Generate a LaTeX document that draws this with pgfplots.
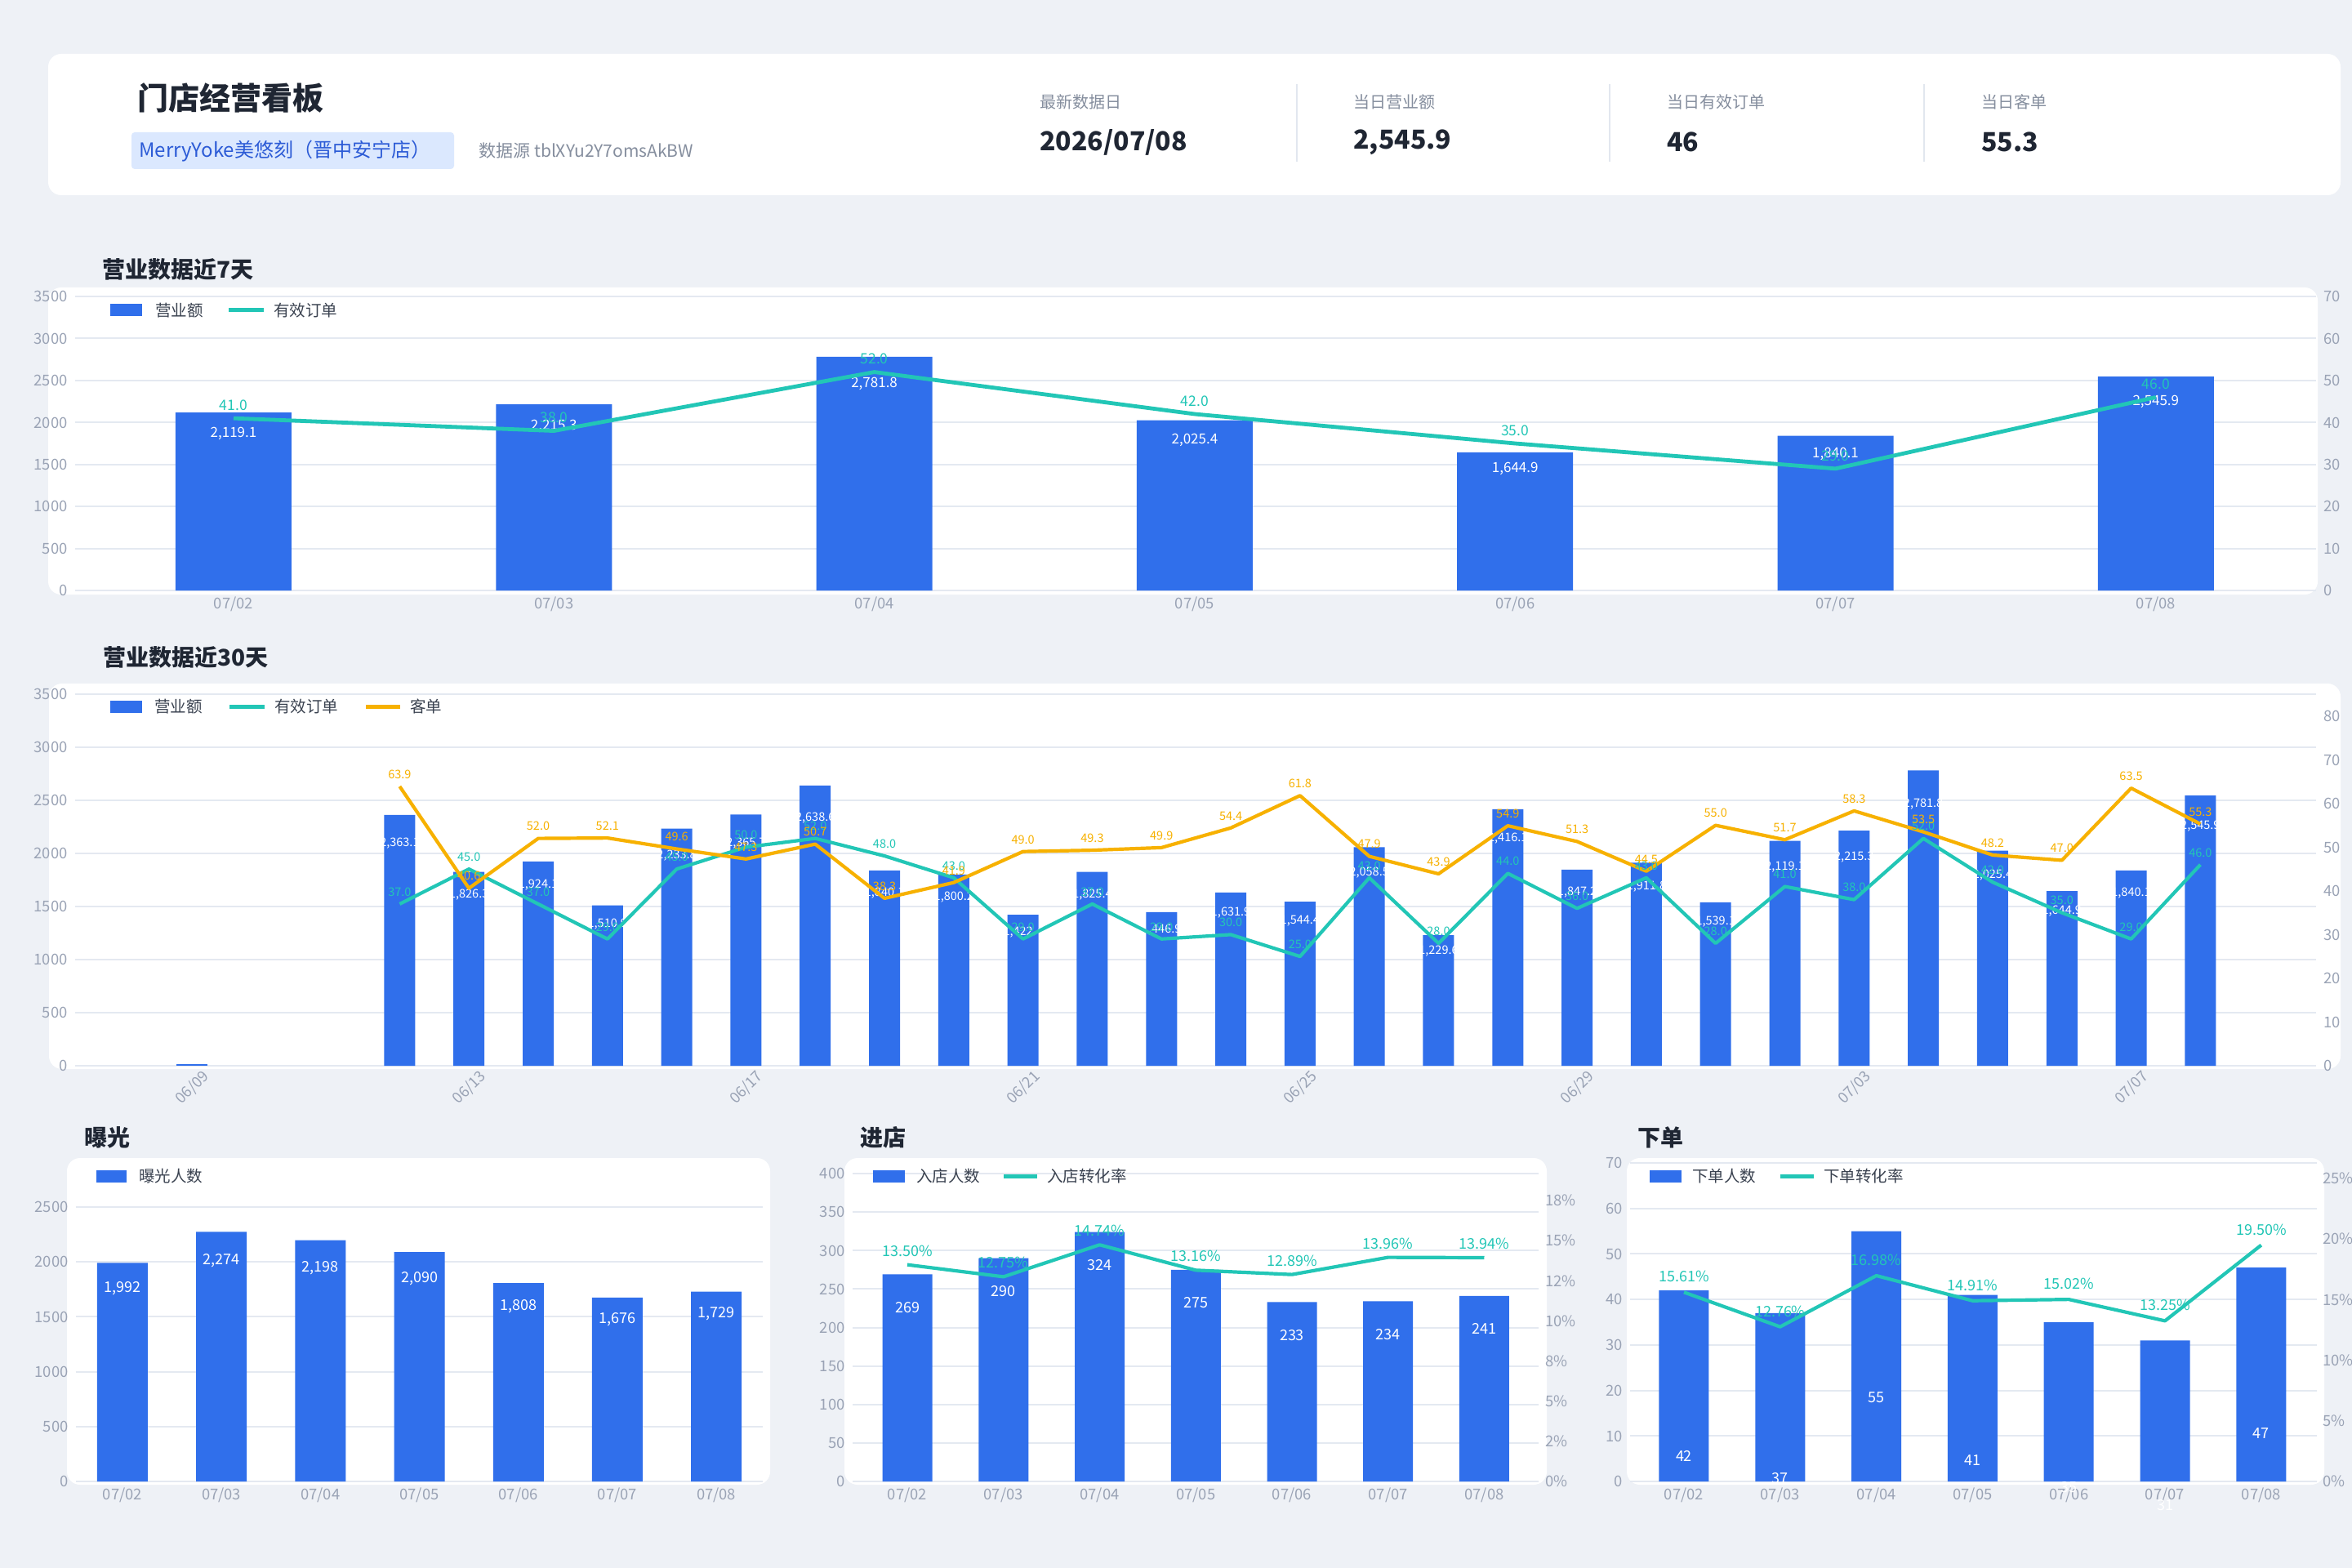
\documentclass[border=0pt]{standalone}
\usepackage{fontspec}
\setmainfont{Noto Sans CJK SC}
\usepackage{pgfplots}
\usepackage{pgfplotstable}
\pgfplotsset{compat=1.18}

\definecolor{bg}{HTML}{EEF1F6}
\definecolor{barblue}{HTML}{306FEB}
\definecolor{tealc}{HTML}{22C6B6}
\definecolor{orangec}{HTML}{F7B100}
\definecolor{gridc}{HTML}{E4E9F1}
\definecolor{tickc}{HTML}{9AA3B5}
\definecolor{titlec}{HTML}{1F2633}
\definecolor{legc}{HTML}{3A4250}
\definecolor{kpilab}{HTML}{858E9E}
\definecolor{storebg}{HTML}{DBE8FE}
\definecolor{storetx}{HTML}{2C5BD6}
\definecolor{divc}{HTML}{E2E7EF}

\newcommand\fs[1]{\fontsize{#1}{#1}\selectfont}
\newcommand\fmtA{\pgfmathprintnumber[fixed,fixed zerofill,precision=1,1000 sep={,}]{\pgfplotspointmeta}}
\newcommand\fmtI{\pgfmathprintnumber[fixed,precision=0,1000 sep={,}]{\pgfplotspointmeta}}
\newcommand\fmtP{\pgfmathprintnumber[fixed,fixed zerofill,precision=2]{\pgfplotspointmeta}\%}

\pgfplotstableread{
x rev ord
0 2119.1 41
1 2215.3 38
2 2781.8 52
3 2025.4 42
4 1644.9 35
5 1840.1 29
6 2545.9 46
}\weekdata

\pgfplotstableread{
x rev ord aov
3 2363.1 37 63.9
4 1826.3 45 40.6
5 1924.1 37 52.0
6 1510.9 29 52.1
7 2233.8 45 49.6
8 2365.7 50 47.3
9 2638.6 52 50.7
10 1840.1 48 38.3
11 1800.2 43 41.9
12 1422.4 29 49.0
13 1825.4 37 49.3
14 1446.9 29 49.9
15 1631.9 30 54.4
16 1544.4 25 61.8
17 2058.5 43 47.9
18 1229.6 28 43.9
19 2416.1 44 54.9
20 1847.2 36 51.3
21 1911.8 43 44.5
22 1539.1 28 55.0
23 2119.1 41 51.7
24 2215.3 38 58.3
25 2781.8 52 53.5
26 2025.4 42 48.2
27 1644.9 35 47.0
28 1840.1 29 63.5
29 2545.9 46 55.3
}\monthdata

\pgfplotstableread{
x exp inn inr ord orr
0 1992 269 13.50 42 15.61
1 2274 290 12.75 37 12.76
2 2198 324 14.74 55 16.98
3 2090 275 13.16 41 14.91
4 1808 233 12.89 35 15.02
5 1676 234 13.96 31 13.25
6 1729 241 13.94 47 19.50
}\funneldata

\pgfplotsset{
 dash/.style={scale only axis, clip=false, anchor=north west,
  axis line style={draw=none}, tick style={draw=none}, major tick length=0pt,
  scaled ticks=false,
  /pgf/number format/assume math mode=true,
  /pgf/number format/1000 sep={},
  ymin=0,
  tick label style={font=\fs{9.2}, text=tickc, inner sep=0pt, text height=6.75pt, text depth=0pt}},
 leftax/.style={dash, ymajorgrids, grid style={gridc, line width=1pt},
  yticklabel style={anchor=east, xshift=-4.5pt},
  xticklabel style={anchor=base, yshift=-11.35pt}},
 rightax/.style={dash, axis x line=none, axis y line*=right, xtick=\empty,
  yticklabel style={anchor=west, xshift=4.5pt}},
 lbl/.style n args={4}{every node near coord/.append style={anchor=center, text=#1, inner sep=0pt, text depth=0pt, font=\fs{#2}, text height=#3, yshift=#4}},
}

\begin{document}
\begin{tikzpicture}
\begin{scope}[x=0.5pt,y=-0.5pt]
\fill[bg] (0,0) rectangle (2880,1920);
% header card
\fill[white, rounded corners=8pt] (59,66) rectangle (2866,239);
\node[anchor=west, inner sep=0pt, text=titlec, font=\fs{19}\bfseries] at (168,120) {门店经营看板};
\fill[storebg, rounded corners=2pt] (161,162) rectangle (556,207);
\node[anchor=west, inner sep=0pt, text=storetx, font=\fs{12}] at (170,185) {MerryYoke美悠刻（晋中安宁店）};
\node[anchor=west, inner sep=0pt, text=kpilab, font=\fs{10.5}] at (586,185) {数据源 tblXYu2Y7omsAkBW};
\node[anchor=west, inner sep=0pt, text=kpilab, font=\fs{10}] at (1273,125) {最新数据日};
\node[anchor=west, inner sep=0pt, text=titlec, font=\fs{16}\bfseries] at (1273,174) {2026/07/08};
\node[anchor=west, inner sep=0pt, text=kpilab, font=\fs{10}] at (1657,125) {当日营业额};
\node[anchor=west, inner sep=0pt, text=titlec, font=\fs{16}\bfseries] at (1657,174) {2,545.9};
\node[anchor=west, inner sep=0pt, text=kpilab, font=\fs{10}] at (2041,125) {当日有效订单};
\node[anchor=west, inner sep=0pt, text=titlec, font=\fs{16}\bfseries] at (2041,174) {46};
\node[anchor=west, inner sep=0pt, text=kpilab, font=\fs{10}] at (2426,125) {当日客单};
\node[anchor=west, inner sep=0pt, text=titlec, font=\fs{16}\bfseries] at (2426,174) {55.3};
\draw[divc, line width=1pt] (1588,103) -- (1588,198);
\draw[divc, line width=1pt] (1971,103) -- (1971,198);
\draw[divc, line width=1pt] (2356,103) -- (2356,198);
% section titles
\node[anchor=west, inner sep=0pt, text=titlec, font=\fs{14}\bfseries] at (125,330) {营业数据近7天};
\node[anchor=west, inner sep=0pt, text=titlec, font=\fs{14}\bfseries] at (126,805) {营业数据近30天};
\node[anchor=west, inner sep=0pt, text=titlec, font=\fs{14}\bfseries] at (103,1393) {曝光};
\node[anchor=west, inner sep=0pt, text=titlec, font=\fs{14}\bfseries] at (1053,1393) {进店};
\node[anchor=west, inner sep=0pt, text=titlec, font=\fs{14}\bfseries] at (2005,1393) {下单};
% cards
\fill[white, rounded corners=8pt] (59,352) rectangle (2838,728);
\fill[white, rounded corners=8pt] (60,837) rectangle (2866,1309);
\fill[white, rounded corners=8pt] (82,1418) rectangle (943,1818);
\fill[white, rounded corners=8pt] (1034,1418) rectangle (1894,1818);
\fill[white, rounded corners=8pt] (1992,1418) rectangle (2846,1818);
\end{scope}

% ===== 7-day =====
\begin{axis}[leftax, at={(46pt,-181.5pt)}, width=1372pt, height=180pt,
  xmin=-0.4945, xmax=6.5, ymax=3500, ytick={0,500,...,3500},
  xtick={0,...,6}, xticklabels={07/02,07/03,07/04,07/05,07/06,07/07,07/08}]
\addplot[ybar, bar width=71pt, fill=barblue, draw=none] table[x=x,y=rev]{\weekdata};
\addplot[draw=none, mark=none, point meta=explicit, nodes near coords={\fmtA},
  lbl={white}{8.5}{6.2pt}{0pt}] table[x=x, y expr=0.89*\thisrow{rev}, meta=rev]{\weekdata};
\end{axis}
\begin{axis}[rightax, at={(46pt,-181.5pt)}, width=1372pt, height=180pt,
  xmin=-0.4945, xmax=6.5, ymax=70, ytick={0,10,...,70}]
\addplot[tealc, line width=2.4pt, line join=round, mark=none, point meta=y, nodes near coords={\fmtA},
  lbl={tealc}{8.75}{6.4pt}{8pt}] table[x=x,y=ord]{\weekdata};
\end{axis}

% ===== 30-day =====
\begin{axis}[leftax, at={(46pt,-425pt)}, width=1372pt, height=227.5pt,
  xmin=-1.686, xmax=30.67, ymax=3500, ytick={0,500,...,3500},
  xtick={0,4,...,28}, xticklabels={06/09,06/13,06/17,06/21,06/25,06/29,07/03,07/07},
  xticklabel style={yshift=-1.65pt, rotate=45, anchor=center}]
\addplot[ybar, bar width=19pt, fill=barblue, draw=none] coordinates {(0,12)};
\addplot[ybar, bar width=19pt, fill=barblue, draw=none] table[x=x,y=rev]{\monthdata};
\addplot[draw=none, mark=none, point meta=explicit, nodes near coords={\fmtA},
  lbl={white}{7.25}{5.3pt}{0pt}] table[x=x, y expr=0.89*\thisrow{rev}, meta=rev]{\monthdata};
\end{axis}
\begin{axis}[rightax, at={(46pt,-425pt)}, width=1372pt, height=227.5pt,
  xmin=-1.686, xmax=30.67, ymax=85, ytick={0,10,...,80}]
\addplot[tealc, line width=2.1pt, line join=round, mark=none, point meta=y, nodes near coords={\fmtA},
  lbl={tealc}{7.25}{5.3pt}{7.5pt}] table[x=x,y=ord]{\monthdata};
\addplot[orangec, line width=2.1pt, line join=round, mark=none, point meta=y, nodes near coords={\fmtA},
  lbl={orangec}{7.25}{5.3pt}{7.5pt}] table[x=x,y=aov]{\monthdata};
\end{axis}

% ===== exposure =====
\begin{axis}[leftax, at={(46.5pt,-739pt)}, width=420.5pt, height=168pt,
  xmin=-0.47, xmax=6.469, ymax=2500, ytick={0,500,...,2500},
  xtick={0,...,6}, xticklabels={07/02,07/03,07/04,07/05,07/06,07/07,07/08}]
\addplot[ybar, bar width=31pt, fill=barblue, draw=none] table[x=x,y=exp]{\funneldata};
\addplot[draw=none, mark=none, point meta=explicit, nodes near coords={\fmtI},
  lbl={white}{9}{6.6pt}{0pt}] table[x=x, y expr=0.89*\thisrow{exp}, meta=exp]{\funneldata};
\end{axis}

% ===== store entry =====
\begin{axis}[leftax, at={(522pt,-718.5pt)}, width=420pt, height=188.5pt,
  xmin=-0.569, xmax=6.565, ymax=400, ytick={0,50,...,400},
  xtick={0,...,6}, xticklabels={07/02,07/03,07/04,07/05,07/06,07/07,07/08}]
\addplot[ybar, bar width=30.5pt, fill=barblue, draw=none] table[x=x,y=inn]{\funneldata};
\addplot[draw=none, mark=none, point meta=explicit, nodes near coords={\fmtI},
  lbl={white}{9}{6.6pt}{0pt}] table[x=x, y expr=\thisrow{inn}-42.5, meta=inn]{\funneldata};
\end{axis}
\begin{axis}[rightax, at={(522pt,-718.5pt)}, width=420pt, height=188.5pt,
  xmin=-0.569, xmax=6.565, ymax=19.18, ytick={0,2.5,5,7.5,10,12.5,15,17.5},
  yticklabels={0\%,2\%,5\%,8\%,10\%,12\%,15\%,18\%}, yticklabel style={xshift=-0.5pt}]
\addplot[tealc, line width=2.1pt, line join=round, mark=none, point meta=y, nodes near coords={\fmtP},
  lbl={tealc}{9}{6.6pt}{8.5pt}] table[x=x,y=inr]{\funneldata};
\end{axis}

% ===== orders =====
\begin{axis}[leftax, at={(998pt,-712pt)}, width=420.5pt, height=195pt,
  xmin=-0.56, xmax=6.579, ymax=70, ytick={0,10,...,70},
  xtick={0,...,6}, xticklabels={07/02,07/03,07/04,07/05,07/06,07/07,07/08}]
\addplot[ybar, bar width=30.5pt, fill=barblue, draw=none] table[x=x,y=ord]{\funneldata};
\addplot[draw=none, mark=none, point meta=explicit, nodes near coords={\fmtI},
  lbl={white}{9}{6.6pt}{0pt}] table[x=x, y expr=0.987*\thisrow{ord}-35.8, meta=ord]{\funneldata};
\end{axis}
\begin{axis}[rightax, at={(998pt,-712pt)}, width=420.5pt, height=195pt,
  xmin=-0.56, xmax=6.579, ymax=26.28, ytick={0,5,...,25},
  yticklabels={0\%,5\%,10\%,15\%,20\%,25\%}, yticklabel style={xshift=-1pt}]
\addplot[tealc, line width=2.1pt, line join=round, mark=none, point meta=y, nodes near coords={\fmtP},
  lbl={tealc}{9}{6.6pt}{9.5pt}] table[x=x,y=orr]{\funneldata};
\end{axis}

% legends (drawn above the grid lines)
\begin{scope}[x=0.5pt,y=-0.5pt, every node/.style={anchor=west, inner sep=0pt, text=legc, font=\fs{9.75}}]
\fill[barblue] (135,372.5) rectangle (174,387.5); \node at (190,380) {营业额};
\draw[tealc, line width=2.5pt] (280,380) -- (323,380); \node at (335,380) {有效订单};
\fill[barblue] (135,857.5) rectangle (174,872.5); \node at (189,865) {营业额};
\draw[tealc, line width=2.5pt] (281,865) -- (324,865); \node at (336,865) {有效订单};
\draw[orangec, line width=2.5pt] (448,865) -- (490,865); \node at (502,865) {客单};
\fill[barblue] (118,1432.5) rectangle (155,1447.5); \node at (170,1440) {曝光人数};
\fill[barblue] (1069,1432.5) rectangle (1108,1447.5); \node at (1122,1440) {入店人数};
\draw[tealc, line width=2.5pt] (1229,1440) -- (1270,1440); \node at (1282,1440) {入店转化率};
\fill[barblue] (2020,1432.5) rectangle (2059,1447.5); \node at (2072,1440) {下单人数};
\draw[tealc, line width=2.5pt] (2180,1440) -- (2221,1440); \node at (2233,1440) {下单转化率};
\end{scope}

\pgfresetboundingbox
\path[use as bounding box] (0pt,0pt) rectangle (1440pt,-960pt);
\end{tikzpicture}
\end{document}
